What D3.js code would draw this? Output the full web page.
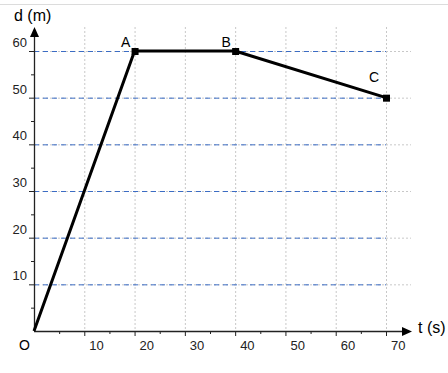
<!DOCTYPE html>
<html>
<head>
<meta charset="utf-8">
<script src="https://cdn.jsdelivr.net/npm/d3@7"></script>
<style>
  body { margin: 0; background: #fff; }
  svg { display: block; font-family: "Liberation Sans", Arial, sans-serif; }
</style>
</head>
<body>
<script>
// données du graphique
var pointNames = ["O", "A", "B", "C"];
var times = [0, 20, 40, 70];       // t (s)
var distances = [0, 60, 60, 50];   // d (m)
var xTicks = [10, 20, 30, 40, 50, 60, 70];
var yTicks = [10, 20, 30, 40, 50, 60];

var W = 448, H = 373;
var x = d3.scaleLinear().domain([0, 70]).range([34, 386]);
var y = d3.scaleLinear().domain([0, 60]).range([331, 51]);

var svg = d3.select("body").append("svg")
    .attr("width", W)
    .attr("height", H);

// bordure du haut
svg.append("line")
    .attr("x1", 0).attr("x2", W).attr("y1", 4.5).attr("y2", 4.5)
    .attr("stroke", "#dcdcdc");

// grille verticale
svg.selectAll(".vgrid").data(xTicks).enter().append("line")
    .attr("class", "vgrid")
    .attr("x1", function(d) { return x(d) + 0.5; })
    .attr("x2", function(d) { return x(d) + 0.5; })
    .attr("y1", 27).attr("y2", y(0))
    .attr("stroke", "#c8c8c8")
    .attr("stroke-dasharray", "2,2");

// grille horizontale (pointillés gris puis tirets bleus)
svg.selectAll(".hgrid").data(yTicks).enter().append("line")
    .attr("class", "hgrid")
    .attr("x1", x(0)).attr("x2", 411)
    .attr("y1", function(d) { return y(d) + 0.5; })
    .attr("y2", function(d) { return y(d) + 0.5; })
    .attr("stroke", "#c8c8c8")
    .attr("stroke-dasharray", "2,2");

svg.selectAll(".hdash").data(yTicks).enter().append("line")
    .attr("class", "hdash")
    .attr("x1", x(0)).attr("x2", x(70))
    .attr("y1", function(d) { return y(d) + 0.5; })
    .attr("y2", function(d) { return y(d) + 0.5; })
    .attr("stroke", "#3b6cc4")
    .attr("stroke-dasharray", "5,4");

// axes
var axisColor = "#222";
svg.append("line")
    .attr("x1", x(0)).attr("x2", 404)
    .attr("y1", y(0) + 0.5).attr("y2", y(0) + 0.5)
    .attr("stroke", axisColor).attr("stroke-width", 1.3);
svg.append("path")
    .attr("d", "M412," + (y(0) + 0.5) + "L402," + (y(0) - 4) + "L402," + (y(0) + 5) + "Z")
    .attr("fill", "#000");

svg.append("line")
    .attr("x1", x(0) + 0.5).attr("x2", x(0) + 0.5)
    .attr("y1", y(0)).attr("y2", 36)
    .attr("stroke", axisColor).attr("stroke-width", 1.3);
svg.append("path")
    .attr("d", "M" + (x(0) + 0.5) + ",27L" + (x(0) - 4) + ",37L" + (x(0) + 5) + ",37Z")
    .attr("fill", "#000");

// graduations
var xMinor = d3.range(5, 70, 10);
var yMinor = d3.range(5, 60, 10);

svg.selectAll(".xt").data(xTicks).enter().append("line")
    .attr("x1", function(d) { return x(d) + 0.5; })
    .attr("x2", function(d) { return x(d) + 0.5; })
    .attr("y1", y(0)).attr("y2", y(0) + 5)
    .attr("stroke", axisColor);
svg.selectAll(".xm").data(xMinor).enter().append("line")
    .attr("x1", function(d) { return x(d) + 0.5; })
    .attr("x2", function(d) { return x(d) + 0.5; })
    .attr("y1", y(0)).attr("y2", y(0) + 3)
    .attr("stroke", axisColor);
svg.selectAll(".yt").data(yTicks).enter().append("line")
    .attr("x1", x(0) - 5).attr("x2", x(0))
    .attr("y1", function(d) { return y(d) + 0.5; })
    .attr("y2", function(d) { return y(d) + 0.5; })
    .attr("stroke", axisColor);
svg.selectAll(".ym").data(yMinor).enter().append("line")
    .attr("x1", x(0) - 3).attr("x2", x(0))
    .attr("y1", function(d) { return y(d) + 0.5; })
    .attr("y2", function(d) { return y(d) + 0.5; })
    .attr("stroke", axisColor);

// étiquettes
svg.selectAll(".xl").data(xTicks).enter().append("text")
    .attr("x", function(d) { return x(d) + 5; })
    .attr("y", 350)
    .attr("font-size", 13)
    .attr("fill", "#222")
    .text(function(d) { return d; });
svg.selectAll(".yl").data(yTicks).enter().append("text")
    .attr("x", 27)
    .attr("y", function(d) { return y(d) - 4; })
    .attr("text-anchor", "end")
    .attr("font-size", 13)
    .attr("fill", "#222")
    .text(function(d) { return d; });

svg.append("text").attr("x", 14).attr("y", 21).attr("font-size", 16).text("d (m)");
svg.append("text").attr("x", 418).attr("y", 333).attr("font-size", 16).text("t (s)");
svg.append("text").attr("x", 19).attr("y", 350).attr("font-size", 14).text("O");

// courbe
var pts = times.map(function(t, i) { return { name: pointNames[i], t: t, d: distances[i] }; });

svg.append("path")
    .datum(pts)
    .attr("fill", "none")
    .attr("stroke", "#000")
    .attr("stroke-width", 3)
    .attr("stroke-linejoin", "round")
    .attr("d", d3.line()
        .x(function(d) { return x(d.t); })
        .y(function(d) { return y(d.d); }));

var marked = pts.slice(1);
svg.selectAll(".pt").data(marked).enter().append("rect")
    .attr("x", function(d) { return x(d.t) - 3; })
    .attr("y", function(d) { return y(d.d) - 3; })
    .attr("width", 7).attr("height", 7)
    .attr("fill", "#000");

var labelOff = { A: [-9, -4], B: [-9, -4], C: [-12, -16] };
svg.selectAll(".pl").data(marked).enter().append("text")
    .attr("x", function(d) { return x(d.t) + labelOff[d.name][0]; })
    .attr("y", function(d) { return y(d.d) + labelOff[d.name][1]; })
    .attr("text-anchor", "middle")
    .attr("font-size", 14)
    .text(function(d) { return d.name; });
</script>
</body>
</html>
